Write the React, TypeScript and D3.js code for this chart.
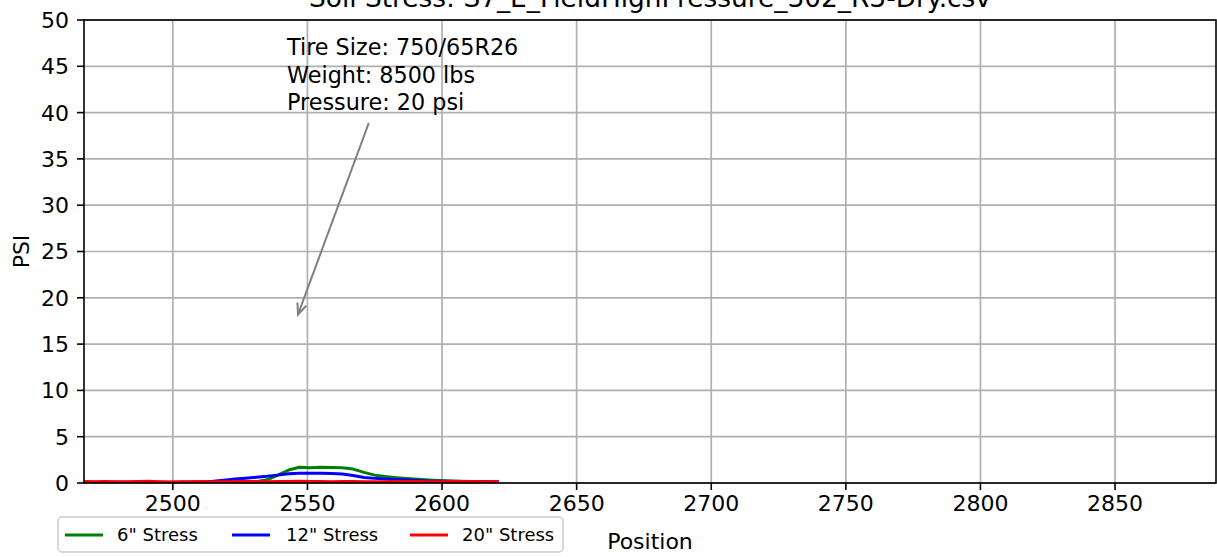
import React from "react";
import * as d3 from "d3";

const positions = [2467, 2471, 2475, 2479, 2483, 2487, 2491, 2495, 2499, 2503, 2507, 2511, 2515, 2519, 2523, 2527, 2531, 2535, 2539, 2543, 2547, 2551, 2555, 2559, 2563, 2567, 2571, 2575, 2579, 2583, 2587, 2591, 2595, 2599, 2603, 2607, 2611, 2615, 2619, 2621];
const stress6 = [0.05, 0.05, 0.06, 0.05, 0.05, 0.06, 0.05, 0.05, 0.06, 0.05, 0.05, 0.06, 0.06, 0.07, 0.08, 0.1, 0.15, 0.35, 0.85, 1.4, 1.7, 1.65, 1.7, 1.68, 1.65, 1.5, 1.15, 0.85, 0.7, 0.58, 0.48, 0.4, 0.32, 0.26, 0.22, 0.19, 0.16, 0.14, 0.12, 0.12];
const stress12 = [0.08, 0.08, 0.09, 0.08, 0.08, 0.09, 0.08, 0.08, 0.09, 0.08, 0.1, 0.13, 0.2, 0.3, 0.42, 0.52, 0.62, 0.72, 0.85, 1.0, 1.05, 1.05, 1.05, 1.03, 0.98, 0.8, 0.6, 0.5, 0.44, 0.38, 0.32, 0.27, 0.22, 0.2, 0.18, 0.17, 0.16, 0.15, 0.16, 0.16];
const stress20 = [0.15, 0.14, 0.15, 0.13, 0.14, 0.16, 0.18, 0.14, 0.12, 0.13, 0.14, 0.15, 0.14, 0.13, 0.15, 0.16, 0.15, 0.14, 0.15, 0.17, 0.18, 0.16, 0.15, 0.14, 0.16, 0.15, 0.14, 0.13, 0.14, 0.15, 0.16, 0.15, 0.14, 0.13, 0.15, 0.16, 0.15, 0.13, 0.16, 0.17];

const seriesNames = ['6" Stress', '12" Stress', '20" Stress'];
const seriesColors = ["#008000", "#0000ff", "#ff0000"];
const xTicks = [2500, 2550, 2600, 2650, 2700, 2750, 2800, 2850];
const yTicks = [0, 5, 10, 15, 20, 25, 30, 35, 40, 45, 50];
const xDomain = [2467, 2887.5];
const yDomain = [0, 50];

const titleText = "Soil Stress: S7_E_FieldHighPressure_302_R3-Dry.csv";
const annotationLines = ["Tire Size: 750/65R26", "Weight: 8500 lbs", "Pressure: 20 psi"];
const arrowTip = [2546.5, 18.2];
const arrowTail = [2572.8, 38.9];

const W = 1217;
const H = 557;
const M = { left: 84, right: 1216, top: 20, bottom: 483 };
const FONT = "DejaVu Sans, sans-serif";

export default function App() {
  const x = d3.scaleLinear().domain(xDomain).range([M.left, M.right]);
  const y = d3.scaleLinear().domain(yDomain).range([M.bottom, M.top]);
  const allSeries = [stress6, stress12, stress20];
  const line = d3
    .line<number>()
    .x((_, i) => x(positions[i]))
    .y((d) => y(d));

  const tx = x(arrowTail[0]);
  const ty = y(arrowTail[1]);
  const hx = x(arrowTip[0]);
  const hy = y(arrowTip[1]);
  const ang = Math.atan2(hy - ty, hx - tx);
  const hl = 12;
  const ha = 0.4;
  const h1 = [hx - hl * Math.cos(ang - ha), hy - hl * Math.sin(ang - ha)];
  const h2 = [hx - hl * Math.cos(ang + ha), hy - hl * Math.sin(ang + ha)];

  const legendItems = [
    { lx: 65, tx: 117 },
    { lx: 232, tx: 286 },
    { lx: 410, tx: 462 },
  ];

  return (
    <svg
      width={W}
      height={H}
      style={{ position: "fixed", left: 0, top: 0, background: "#fff" }}
      fontFamily={FONT}
    >
      <rect x={0} y={0} width={W} height={H} fill="#fff" />
      <text x={(M.left + M.right) / 2} y={7} textAnchor="middle" fontSize={26.4} fill="#000">
        {titleText}
      </text>
      {/* grid */}
      {xTicks.map((t) => (
        <line key={"gx" + t} x1={x(t)} x2={x(t)} y1={M.top} y2={M.bottom} stroke="#b0b0b0" strokeWidth={1.7} />
      ))}
      {yTicks.map((t) => (
        <line key={"gy" + t} x1={M.left} x2={M.right} y1={y(t)} y2={y(t)} stroke="#b0b0b0" strokeWidth={1.7} />
      ))}
      {/* data */}
      <g clipPath="url(#clip)">
        {allSeries.map((s, i) => (
          <path key={i} d={line(s) || ""} fill="none" stroke={seriesColors[i]} strokeWidth={3} strokeLinejoin="round" />
        ))}
      </g>
      <defs>
        <clipPath id="clip">
          <rect x={M.left} y={M.top} width={M.right - M.left} height={M.bottom - M.top} />
        </clipPath>
      </defs>
      {/* spines */}
      <rect x={M.left} y={M.top} width={M.right - M.left} height={M.bottom - M.top} fill="none" stroke="#000" strokeWidth={1.6} />
      {/* ticks */}
      {xTicks.map((t) => (
        <g key={"xt" + t}>
          <line x1={x(t)} x2={x(t)} y1={M.bottom} y2={M.bottom + 7} stroke="#000" strokeWidth={1.6} />
          <text x={x(t)} y={M.bottom + 28} textAnchor="middle" fontSize={22} fill="#000">
            {t}
          </text>
        </g>
      ))}
      {yTicks.map((t) => (
        <g key={"yt" + t}>
          <line x1={M.left - 7} x2={M.left} y1={y(t)} y2={y(t)} stroke="#000" strokeWidth={1.6} />
          <text x={M.left - 15} y={y(t)} dy="0.36em" textAnchor="end" fontSize={22} fill="#000">
            {t}
          </text>
        </g>
      ))}
      {/* axis labels */}
      <text x={650} y={549} textAnchor="middle" fontSize={22} fill="#000">
        Position
      </text>
      <text transform={`translate(29, ${(M.top + M.bottom) / 2}) rotate(-90)`} textAnchor="middle" fontSize={22} fill="#000">
        PSI
      </text>
      {/* annotation */}
      {annotationLines.map((l, i) => (
        <text key={l} x={287} y={55 + i * 27.7} fontSize={22.3} fill="#000">
          {l}
        </text>
      ))}
      <line x1={tx} y1={ty} x2={hx} y2={hy} stroke="#808080" strokeWidth={2} />
      <polyline points={`${h1[0]},${h1[1]} ${hx},${hy} ${h2[0]},${h2[1]}`} fill="none" stroke="#808080" strokeWidth={2} />
      {/* legend */}
      <rect x={58} y={517} width={505} height={35} rx={4} fill="#fff" fillOpacity={0.8} stroke="#cccccc" strokeWidth={1.5} />
      {legendItems.map((it, i) => (
        <g key={"lg" + i}>
          <line x1={it.lx} x2={it.lx + 38} y1={535} y2={535} stroke={seriesColors[i]} strokeWidth={3} />
          <text x={it.tx} y={541} fontSize={18} fill="#000">
            {seriesNames[i]}
          </text>
        </g>
      ))}
    </svg>
  );
}
